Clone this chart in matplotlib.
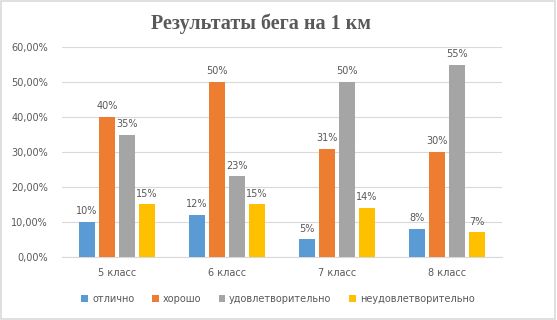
import matplotlib
matplotlib.use("Agg")
import matplotlib.pyplot as plt
from matplotlib.patches import Rectangle
import numpy as np

categories = ["5 класс", "6 класс", "7 класс", "8 класс"]
series_names = ["отлично", "хорошо", "удовлетворительно", "неудовлетворительно"]
otlichno = [0.10, 0.12, 0.05, 0.08]
horosho = [0.40, 0.50, 0.31, 0.30]
udovl = [0.35, 0.23, 0.50, 0.55]
neudovl = [0.15, 0.15, 0.14, 0.07]
yticks = [0.0, 0.1, 0.2, 0.3, 0.4, 0.5, 0.6]
ytick_labels = ["0,00%", "10,00%", "20,00%", "30,00%", "40,00%", "50,00%", "60,00%"]
title = "Результаты бега на 1 км"

colors = ["#5B9BD5", "#ED7D31", "#A5A5A5", "#FFC000"]
series = [otlichno, horosho, udovl, neudovl]
fs = 7

fig = plt.figure(figsize=(5.57, 3.20), dpi=100)
fig.patches.append(Rectangle((0.002, 0.003), 0.995, 0.993, transform=fig.transFigure,
                             fill=False, edgecolor="#D9D9D9", linewidth=1.2))
ax = fig.add_axes([0.1113, 0.197, 0.790, 0.656])

x = np.arange(len(categories))
bw = 0.145
step = 0.182
offsets = (np.arange(4) - 1.5) * step
for i, (vals, c, name) in enumerate(zip(series, colors, series_names)):
    bars = ax.bar(x + offsets[i], vals, width=bw, color=c, label=name, zorder=3)
    for b, v in zip(bars, vals):
        ax.text(b.get_x() + b.get_width() / 2, v + 0.017, f"{round(v*100)}%",
                ha="center", va="bottom", fontsize=fs, color="#595959")

ax.set_xlim(-0.5, len(categories) - 0.5)
ax.set_ylim(0, 0.6)
ax.set_yticks(yticks)
ax.set_yticklabels(ytick_labels, fontsize=fs, color="#595959")
ax.set_xticks(x)
ax.set_xticklabels(categories, fontsize=fs, color="#595959")
ax.tick_params(axis="x", length=0, pad=8)
ax.tick_params(axis="y", length=0, pad=10)
ax.grid(axis="y", color="#D9D9D9", linewidth=0.8, zorder=0)
for s in ["top", "right", "left"]:
    ax.spines[s].set_visible(False)
ax.spines["bottom"].set_color("#D9D9D9")

fig.text(0.469, 0.925, title, ha="center", va="center", fontsize=14.5, fontweight="bold",
         color="#595959", family="Liberation Serif")

leg = fig.legend(loc="center", bbox_to_anchor=(0.499, 0.066), ncol=4, frameon=False,
                 fontsize=fs, handlelength=0.7, handleheight=0.7, handletextpad=0.4,
                 columnspacing=1.8)
for t in leg.get_texts():
    t.set_color("#595959")

fig.savefig("out.png", dpi=100)
